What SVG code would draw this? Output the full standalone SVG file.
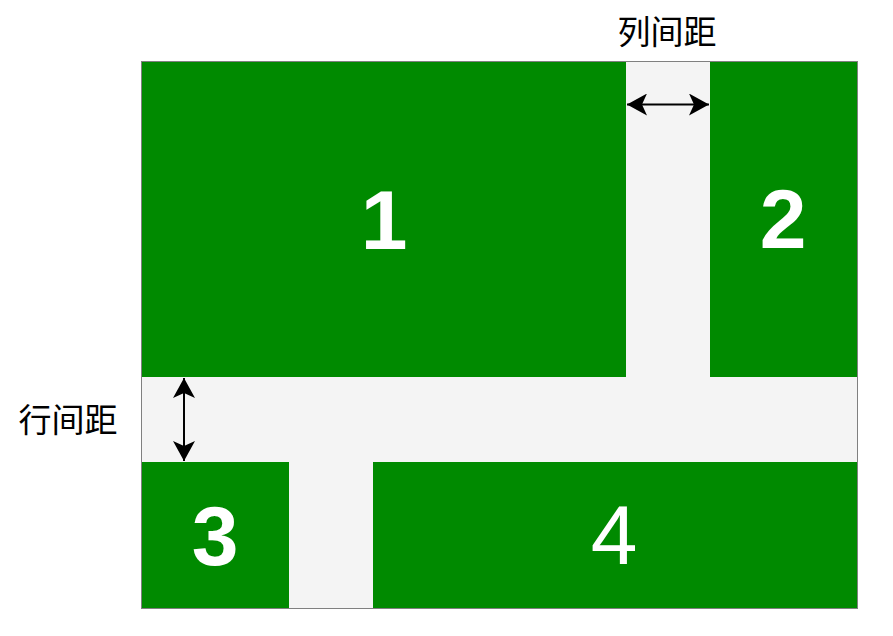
<svg xmlns="http://www.w3.org/2000/svg" width="893" height="636" viewBox="0 0 893 636">
  <defs>
    <style>
      .box { fill: #008a00; }
      .num { font-family: "Liberation Sans", Arial, sans-serif; font-size: 84px; fill: #ffffff; text-anchor: middle; }
      .bold { font-weight: bold; }
      .lbl { font-family: "Liberation Sans", "Noto Sans CJK SC", sans-serif; font-size: 33px; fill: #000000; text-anchor: middle; }
      .conn { stroke: #000000; stroke-width: 2; fill: none; }
    </style>
    <marker id="ah" viewBox="0 0 20 22" refX="20" refY="11" markerWidth="20" markerHeight="22" markerUnits="userSpaceOnUse" orient="auto-start-reverse">
      <path d="M20,11 L0,0 L5,11 L0,22 Z" fill="#000000"/>
    </marker>
  </defs>
  <rect x="0" y="0" width="893" height="636" fill="#ffffff"/>
  <g id="container">
    <rect x="141.5" y="61.5" width="716" height="547" fill="#f4f4f4"/>
  </g>
  <g id="node1">
    <rect class="box" x="142" y="62" width="484" height="315"/>
    <text class="num bold" x="384" y="249">1</text>
  </g>
  <g id="node2">
    <rect class="box" x="710" y="62" width="147" height="315"/>
    <text class="num bold" x="783" y="248">2</text>
  </g>
  <g id="node3">
    <rect class="box" x="142" y="462" width="147" height="146"/>
    <text class="num bold" x="215" y="565">3</text>
  </g>
  <g id="node4">
    <rect class="box" x="373" y="462" width="484" height="146"/>
    <text class="num" x="614" y="564">4</text>
  </g>
  <g id="container-border">
    <rect x="141.5" y="61.5" width="716" height="547" fill="none" stroke="#808080" stroke-width="1"/>
  </g>
  <g id="connectors">
    <line class="conn" x1="627" y1="104.5" x2="709" y2="104.5" marker-start="url(#ah)" marker-end="url(#ah)"/>
    <line class="conn" x1="184" y1="378" x2="184" y2="461" marker-start="url(#ah)" marker-end="url(#ah)"/>
  </g>
  <g id="labels">
    <text class="lbl" x="667" y="44">列间距</text>
    <text class="lbl" x="68" y="432">行间距</text>
  </g>
</svg>
